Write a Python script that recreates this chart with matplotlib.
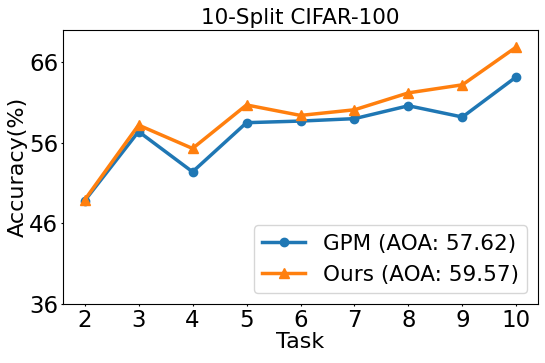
import matplotlib
matplotlib.use('Agg')
import matplotlib.pyplot as plt

tasks = [2, 3, 4, 5, 6, 7, 8, 9, 10]
gpm = [48.8, 57.4, 52.4, 58.5, 58.7, 59.0, 60.6, 59.2, 64.2]
ours = [48.9, 58.2, 55.3, 60.7, 59.4, 60.1, 62.2, 63.2, 67.9]
yticks = [36, 46, 56, 66]

fig = plt.figure(figsize=(5.45, 3.63), dpi=100)
# axes box: left 63px, right 538px, top 30px, bottom 304px
ax = fig.add_axes([63 / 545, 59 / 363, 475 / 545, 274 / 363])

ax.plot(tasks, gpm, marker='o', color='#1f77b4', linewidth=2.5, markersize=6,
        label='GPM (AOA: 57.62)')
ax.plot(tasks, ours, marker='^', color='#ff7f0e', linewidth=2.5, markersize=7.5,
        label='Ours (AOA: 59.57)')

ax.set_ylim(36, 70)
ax.set_yticks(yticks)
ax.set_xticks(tasks)
ax.tick_params(labelsize=16.5, length=1.5, pad=2)
ax.set_xlabel('Task', fontsize=16, labelpad=0)
ax.set_ylabel('Accuracy(%)', fontsize=16, labelpad=1)
ax.set_title('10-Split CIFAR-100', fontsize=15.5, pad=4)
ax.legend(loc='lower right', fontsize=15.5)

fig.savefig('out.png', dpi=100)
